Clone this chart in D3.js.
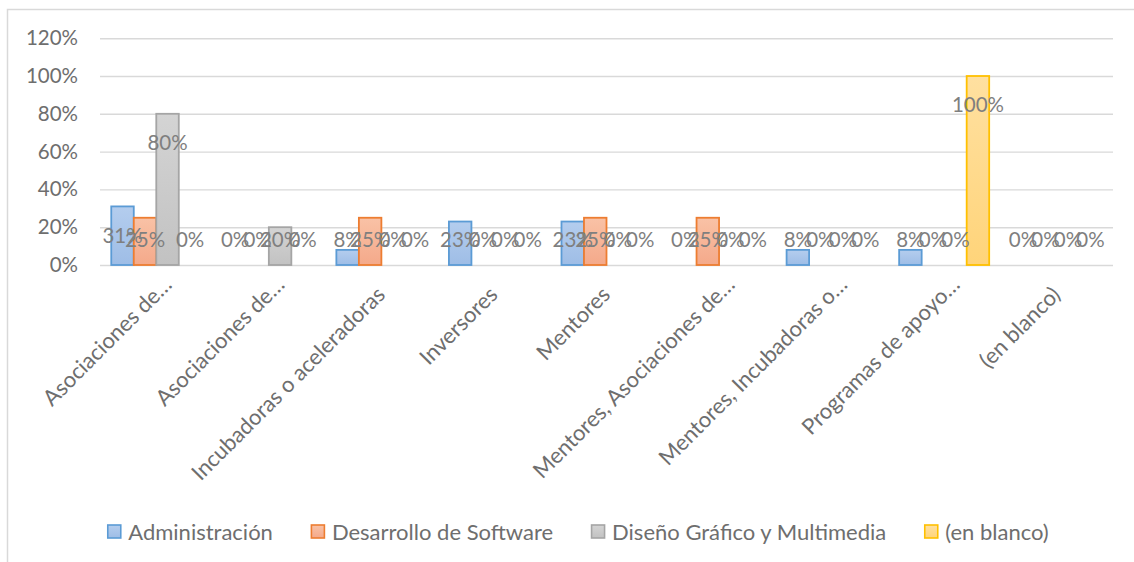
<!DOCTYPE html>
<html>
<head>
<meta charset="utf-8">
<script src="https://cdn.jsdelivr.net/npm/d3@7"></script>
<style>
  html, body { margin: 0; padding: 0; background: #fff; }
  svg text { font-family: Lato, "Open Sans", sans-serif; }
</style>
</head>
<body>
<div id="chart"></div>
<script>
// categories and series
const categories = [
	'Asociaciones de…',
	'Asociaciones de…',
	'Incubadoras o aceleradoras',
	'Inversores',
	'Mentores',
	'Mentores, Asociaciones de…',
	'Mentores, Incubadoras o…',
	'Programas de apoyo…',
	'(en blanco)'
]
const seriesNames = ['Administración', 'Desarrollo de Software', 'Diseño Gráfico y Multimedia', '(en blanco)']
const administracion = [0.31, 0, 0.08, 0.23, 0.23, 0, 0.08, 0.08, 0]
const desarrollo = [0.25, 0, 0.25, 0, 0.25, 0.25, 0, 0, 0]
const diseno = [0.8, 0.2, 0, 0, 0, 0, 0, 0, 0]
const enBlanco = [0, 0, 0, 0, 0, 0, 0, 1, 0]
const yTicks = [0, 0.2, 0.4, 0.6, 0.8, 1.0, 1.2]

const seriesValues = [administracion, desarrollo, diseno, enBlanco]
const fills = [['#b4cdee', '#9ebde6'], ['#f9c2a6', '#f4a98a'], ['#d4d4d4', '#c2c2c2'], ['#ffe0a0', '#ffd47a']]
const strokes = ['#5b9bd5', '#ed7d31', '#a5a5a5', '#ffc000']

const W = 1134
const H = 562
const numFs = 20.5 // numbers (ticks, data labels)
const txtFs = 22 // words (categories, legend)

let svg = d3
	.select('#chart')
	.append('svg:svg')
	.attr('width', W)
	.attr('height', H)

// chart border
svg.append('rect')
	.attr('x', 7.5)
	.attr('y', 9.5)
	.attr('width', 1140)
	.attr('height', 570)
	.attr('fill', 'none')
	.attr('stroke', '#d9d9d9')
	.attr('stroke-width', 1.5)

let defs = svg.append('defs')
fills.forEach((f, i) => {
	let g = defs.append('linearGradient')
		.attr('id', `grad${i}`)
		.attr('x1', 0).attr('y1', 0).attr('x2', 0).attr('y2', 1)
	g.append('stop').attr('offset', '0%').attr('stop-color', f[0])
	g.append('stop').attr('offset', '100%').attr('stop-color', f[1])
})

let x = d3.scaleBand().domain(d3.range(categories.length)).range([100, 1113])
let xs = d3.scaleBand().domain(d3.range(seriesNames.length)).range([0, x.bandwidth()]).paddingOuter(0.5)
let y = d3.scaleLinear().domain([0, 1.2]).range([265, 38.2])

// y axis with gridlines
let yAxis = svg.append('g')
	.attr('transform', 'translate(100,0)')
	.call(d3.axisLeft(y).tickValues(yTicks).tickFormat(d3.format('.0%')).tickSize(-1013).tickPadding(22))
yAxis.select('.domain').remove()
yAxis.selectAll('line').attr('stroke', '#d9d9d9').attr('stroke-width', 1.4)
yAxis.selectAll('text')
	.attr('fill', '#6e6e6e')
	.attr('font-size', numFs)
	.attr('font-family', 'Lato')

// bars
seriesValues.forEach((vals, s) => {
	svg.append('g')
		.selectAll('rect')
		.data(vals.map((v, i) => ({ v, i })).filter(d => d.v > 0))
		.join('rect')
		.attr('x', d => x(d.i) + xs(s))
		.attr('y', d => y(d.v))
		.attr('width', xs.bandwidth())
		.attr('height', d => y(0) - y(d.v))
		.attr('fill', `url(#grad${s})`)
		.attr('stroke', strokes[s])
		.attr('stroke-width', 1.8)
})

// data labels
seriesValues.forEach((vals, s) => {
	svg.append('g')
		.selectAll('text')
		.data(vals.map((v, i) => ({ v, i })))
		.join('text')
		.attr('x', d => x(d.i) + xs(s) + xs.bandwidth() / 2)
		.attr('y', d => Math.min(y(d.v) + 29, y(0) - 25))
		.attr('dy', '0.36em')
		.attr('text-anchor', 'middle')
		.attr('font-size', numFs)
		.attr('fill', '#7f7f7f')
		.text(d => d3.format('.0%')(d.v))
})

// category labels, rotated
let xAxis = svg.append('g')
	.attr('transform', `translate(0,${y(0)})`)
	.call(d3.axisBottom(x).tickFormat(i => categories[i]).tickSize(0))
xAxis.select('.domain').remove()
xAxis.selectAll('text')
	.attr('y', 0)
	.attr('dy', 0)
	.attr('font-size', txtFs)
	.attr('font-family', 'Lato')
	.attr('fill', '#6e6e6e')
	.attr('text-anchor', 'end')
	.attr('transform', i => {
		let cut = categories[i].endsWith('…')
		return cut ? 'translate(17,21) rotate(-45)' : 'translate(5,31) rotate(-45)'
	})

// legend
let legend = svg.append('g')
let items = legend.selectAll('g')
	.data(seriesNames)
	.join('g')
items.append('rect')
	.attr('x', 0.5)
	.attr('y', -7)
	.attr('width', 13)
	.attr('height', 13)
	.attr('fill', (d, i) => `url(#grad${i})`)
	.attr('stroke', (d, i) => strokes[i])
	.attr('stroke-width', 1.6)
items.append('text')
	.attr('x', 21)
	.attr('dy', '0.36em')
	.attr('font-size', txtFs)
	.attr('fill', '#6e6e6e')
	.text(d => d)

let offsets = []
let acc = 0
items.each(function () {
	offsets.push(acc)
	acc += 21 + this.querySelector('text').getComputedTextLength() + 38
})
acc -= 38
let startX = 578 - acc / 2
items.attr('transform', (d, i) => `translate(${startX + offsets[i]},532)`)
</script>
</body>
</html>
